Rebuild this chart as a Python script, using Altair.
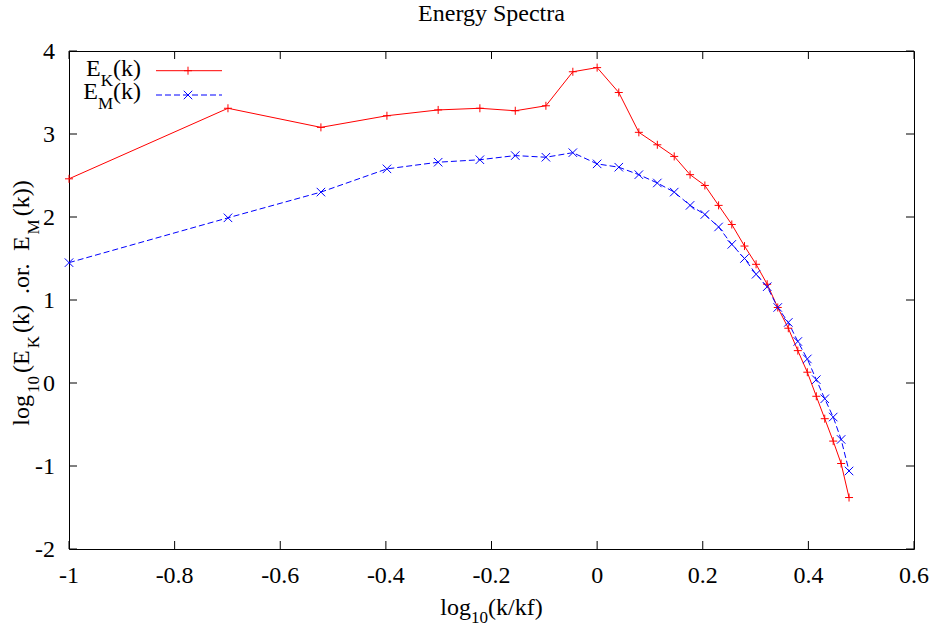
import altair as alt
import pandas as pd

# Spectrum samples: log10(k/kf) and log10 of the kinetic / magnetic energy
log_k = [-1.0, -0.699, -0.523, -0.398, -0.301, -0.222, -0.155, -0.097, -0.046, 0.0,
         0.041, 0.079, 0.114, 0.146, 0.176, 0.204, 0.230, 0.255, 0.279, 0.301,
         0.322, 0.342, 0.362, 0.380, 0.398, 0.415, 0.431, 0.447, 0.462, 0.477]
log_ek = [2.46, 3.31, 3.08, 3.22, 3.29, 3.31, 3.28, 3.34, 3.75, 3.80,
          3.50, 3.02, 2.87, 2.73, 2.51, 2.38, 2.14, 1.91, 1.65, 1.43,
          1.19, 0.91, 0.66, 0.39, 0.13, -0.16, -0.43, -0.70, -0.97, -1.38]
log_em = [1.45, 1.99, 2.30, 2.58, 2.66, 2.69, 2.74, 2.72, 2.775, 2.64,
          2.60, 2.51, 2.41, 2.30, 2.14, 2.03, 1.88, 1.67, 1.50, 1.31,
          1.16, 0.91, 0.73, 0.50, 0.29, 0.04, -0.19, -0.41, -0.68, -1.06]

x_ticks = [-1, -0.8, -0.6, -0.4, -0.2, 0, 0.2, 0.4, 0.6]
x_tick_labels = ["-1", "-0.8", "-0.6", "-0.4", "-0.2", "0", "0.2", "0.4", "0.6"]
y_ticks = [-2, -1, 0, 1, 2, 3, 4]
y_tick_labels = ["-2", "-1", "0", "1", "2", "3", "4"]

W, H = 845, 498
FONT = "Liberation Serif"
FS, SS = 24, 17          # main and subscript font sizes
TICK = 8                 # inward tick length
RED, BLUE = "#ff0000", "#0000ff"
PLUS = "M-1,0L1,0M0,-1L0,1"
CROSS = "M-1,-1L1,1M-1,1L1,-1"

xs = alt.Scale(domain=[-1, 0.6], nice=False, zero=False)
ys = alt.Scale(domain=[-2, 4], nice=False, zero=False)

df = pd.DataFrame({"x": log_k, "ek": log_ek, "em": log_em})
base = alt.Chart(df)
X = alt.X("x:Q", scale=xs, axis=None)

ek_line = base.mark_line(color=RED, strokeWidth=1).encode(
    x=X, y=alt.Y("ek:Q", scale=ys, axis=None))
ek_pts = base.mark_point(shape=PLUS, size=64, color=RED, filled=False,
                         strokeWidth=1, opacity=1).encode(
    x=X, y=alt.Y("ek:Q", scale=ys, axis=None))
em_line = base.mark_line(color=BLUE, strokeWidth=1, strokeDash=[6, 3]).encode(
    x=X, y=alt.Y("em:Q", scale=ys, axis=None))
em_pts = base.mark_point(shape=CROSS, size=72, color=BLUE, filled=False,
                         strokeWidth=1, opacity=1).encode(
    x=X, y=alt.Y("em:Q", scale=ys, axis=None))

# inward ticks on all four sides, plus the tick labels
xt = alt.Chart(pd.DataFrame({"v": x_ticks, "lbl": x_tick_labels}))
yt = alt.Chart(pd.DataFrame({"v": y_ticks, "lbl": y_tick_labels}))
XT = alt.X("v:Q", scale=xs, axis=None)
YT = alt.Y("v:Q", scale=ys, axis=None)
tick_layers = [
    xt.mark_rule(color="black").encode(x=XT, y=alt.value(H), y2=alt.value(H - TICK)),
    xt.mark_rule(color="black").encode(x=XT, y=alt.value(0), y2=alt.value(TICK)),
    yt.mark_rule(color="black").encode(y=YT, x=alt.value(0), x2=alt.value(TICK)),
    yt.mark_rule(color="black").encode(y=YT, x=alt.value(W), x2=alt.value(W - TICK)),
    xt.mark_text(font=FONT, fontSize=FS, align="center", baseline="alphabetic",
                 color="black").encode(x=XT, y=alt.value(H + 34), text="lbl:N"),
    yt.mark_text(font=FONT, fontSize=FS, align="right", baseline="alphabetic",
                 dy=8, color="black").encode(y=YT, x=alt.value(-14), text="lbl:N"),
]

# Times-style advance widths (per 1000 em) for laying out sub-scripted text
ADV = {'l': 278, 'o': 500, 'g': 500, '1': 500, '0': 500, '(': 333, ')': 333,
       'E': 611, 'K': 722, 'M': 889, 'k': 500, ' ': 250, '.': 250, 'r': 333,
       '/': 278, 'f': 333}


def text_width(s, size):
    return sum(ADV.get(c, 500) for c in s) * size / 1000


def piece(text, x, y, size, angle=0, align="left"):
    return alt.Chart(pd.DataFrame({"t": [text]})).mark_text(
        text=text, font=FONT, fontSize=size, align=align, baseline="alphabetic",
        angle=angle, color="black").encode(x=alt.value(x), y=alt.value(y))


def advance(part):
    txt, sub, extra = part
    return text_width(txt, SS if sub else FS) + extra


def total(parts):
    return sum(advance(p) for p in parts)


def rich(parts, x0, y0, shift, vertical=False):
    """parts: (text, is_subscript, extra gap after); x0/y0 start the baseline."""
    out = []
    cur = y0 if vertical else x0
    for part in parts:
        txt, sub, _ = part
        size = SS if sub else FS
        if vertical:
            out.append(piece(txt, x0 + (shift if sub else 0), cur, size, angle=270))
            cur -= advance(part)
        else:
            out.append(piece(txt, cur, y0 + (shift if sub else 0), size))
            cur += advance(part)
    return out


SP = text_width(" ", FS)
xtitle = [("log", False, 0), ("10", True, 0), ("(k/kf)", False, 0)]
ytitle = [("log", False, 2), ("10", True, 3), ("(E", False, 2), ("K", True, 3),
          ("(k)", False, SP + 5), (".or.", False, SP + 5), ("E", False, 2),
          ("M", True, 3), ("(k))", False, 0)]
leg_k = [("E", False, 0), ("K", True, 0), ("(k)", False, 0)]
leg_m = [("E", False, 0), ("M", True, 0), ("(k)", False, 0)]

text_layers = []
text_layers.append(piece("Energy Spectra", W / 2, -30, FS, align="center"))
text_layers += rich(xtitle, W / 2 - total(xtitle) / 2, 564, 8)
text_layers += rich(ytitle, -40, 252 + total(ytitle) / 2, 10, vertical=True)
text_layers += rich(leg_k, 72 - total(leg_k), 24.7, 10)
text_layers += rich(leg_m, 72 - total(leg_m), 48, 10)

one = pd.DataFrame({"a": [0]})
legend_layers = [
    alt.Chart(one).mark_rule(color=RED, strokeWidth=1).encode(
        x=alt.value(87), x2=alt.value(153), y=alt.value(19.7)),
    alt.Chart(one).mark_point(
        shape=PLUS, size=64, color=RED, filled=False, strokeWidth=1, opacity=1).encode(
        x=alt.value(119), y=alt.value(19.7)),
    alt.Chart(one).mark_rule(
        color=BLUE, strokeWidth=1, strokeDash=[6, 3]).encode(
        x=alt.value(87), x2=alt.value(153), y=alt.value(44)),
    alt.Chart(one).mark_point(
        shape=CROSS, size=72, color=BLUE, filled=False, strokeWidth=1, opacity=1).encode(
        x=alt.value(119), y=alt.value(44)),
]

chart = alt.layer(
    ek_line, em_line, ek_pts, em_pts, *tick_layers, *legend_layers, *text_layers
).properties(
    width=W, height=H,
    autosize=alt.AutoSizeParams(type="none"),
    padding={"left": 69, "top": 51, "right": 23, "bottom": 78},
    background="white",
).configure_view(stroke="black", strokeWidth=1)

chart.save("out.html", embed_options={"renderer": "svg", "actions": False})
